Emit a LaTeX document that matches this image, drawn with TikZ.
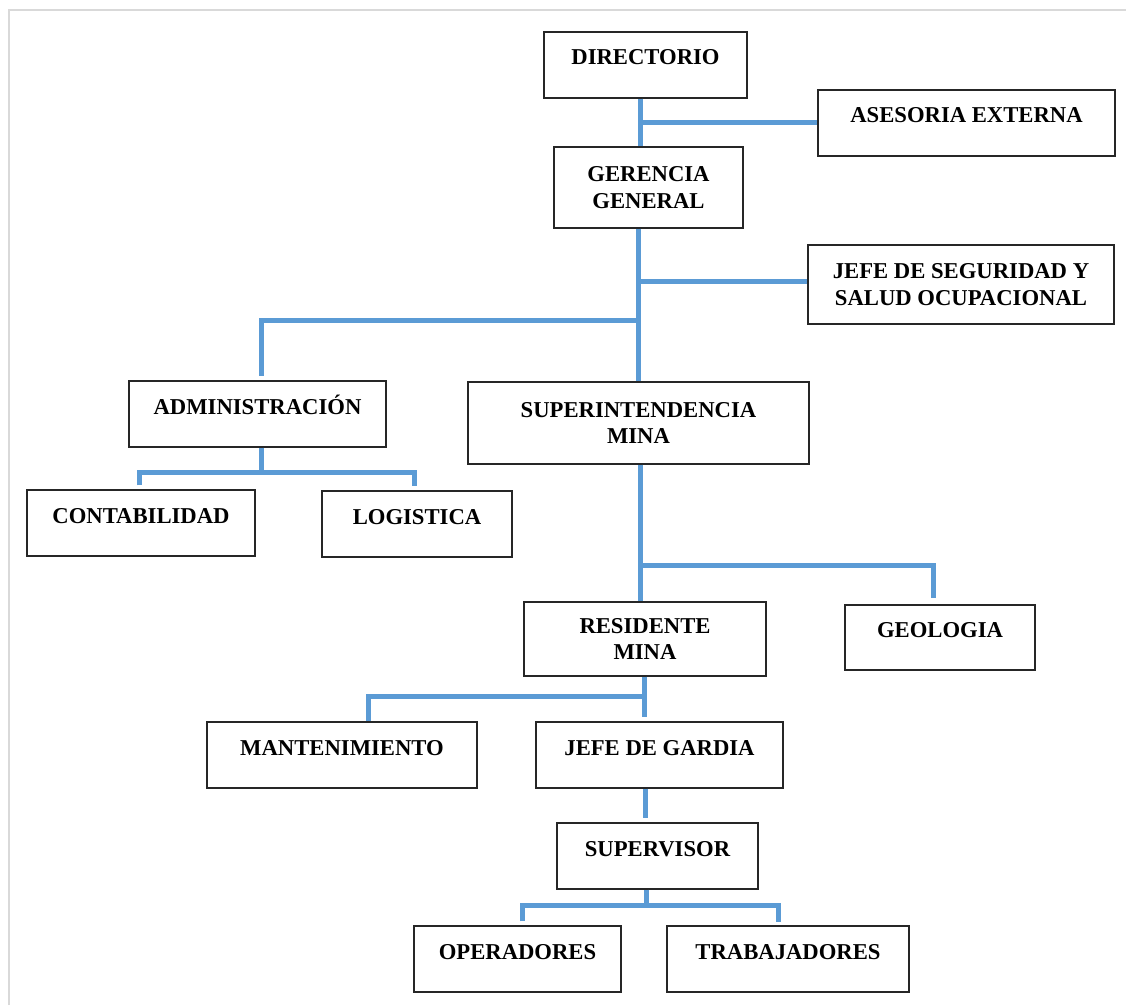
\documentclass[tikz,border=0pt]{standalone}
\usepackage{fontspec}
\setmainfont{Liberation Serif}
\definecolor{linkblue}{RGB}{91,155,213}
\definecolor{framegray}{RGB}{217,217,217}
\begin{document}
\begin{tikzpicture}[x=0.75pt, y=-0.75pt,
  box/.style={draw=black!85, line width=0.9pt, fill=white, inner sep=0pt,
    align=center, font=\fontsize{17}{20}\selectfont\bfseries},
  sz/.style 2 args={minimum width=#1*0.75pt, minimum height=#2*0.75pt},
  oneline/.style={text height=9pt, text depth=9pt},
  link/.style={draw=linkblue, line width=3.75pt}]
\useasboundingbox (0,0) rectangle (1126,1005);
% page frame
\draw[framegray, line width=1.5pt] (9,1005) -- (9,10) -- (1126,10);

% boxes
\node[box, oneline, sz={203}{66}] (dir) at (645.5,65) {DIRECTORIO};
\node[box, oneline, sz={297}{66}] (ase) at (966.5,123) {ASESORIA EXTERNA};
\node[box, sz={189}{81}] (ger) at (648.5,187.5) {GERENCIA\\GENERAL};
\node[box, sz={306}{79}] (seg) at (961,284.5) {JEFE DE SEGURIDAD Y\\SALUD OCUPACIONAL};
\node[box, oneline, sz={257}{66}] (adm) at (257.5,414) {ADMINISTRACIÓN};
\node[box, sz={341}{82}] (sup) at (638.5,423) {SUPERINTENDENCIA\\MINA};
\node[box, oneline, sz={228}{66}] (con) at (141,523) {CONTABILIDAD};
\node[box, oneline, sz={190}{66}] (log) at (417,524) {LOGISTICA};
\node[box, sz={242}{74}] (res) at (645,639) {RESIDENTE\\MINA};
\node[box, oneline, sz={190}{65}] (geo) at (940,637.5) {GEOLOGIA};
\node[box, oneline, sz={270}{66}] (man) at (342,755) {MANTENIMIENTO};
\node[box, oneline, sz={247}{66}] (jdg) at (659.5,755) {JEFE DE GARDIA};
\node[box, oneline, sz={201}{66}] (spv) at (657.5,856) {SUPERVISOR};
\node[box, oneline, sz={207}{66}] (ope) at (517.5,959) {OPERADORES};
\node[box, oneline, sz={242}{66}] (tra) at (788,959) {TRABAJADORES};

% junction points
\coordinate (j1) at (640,123);
\coordinate (j2) at (638,282);
\coordinate (j3) at (638,320);
\coordinate (a1) at (261,320);
\coordinate (a2) at (261,376);
\coordinate (j4) at (261,472);
\coordinate (c1) at (139,472);
\coordinate (l1) at (414,472);
\coordinate (j5) at (640,565);
\coordinate (g1) at (933,565);
\coordinate (g2) at (933,598);
\coordinate (j6) at (644,696);
\coordinate (r1) at (644,717);
\coordinate (m1) at (368,696);
\coordinate (k1) at (645,818);
\coordinate (j7) at (646,905);
\coordinate (o1) at (522,905);
\coordinate (t1) at (778,905);

% connectors
\draw[link] (j1 |- dir.south) -- (j1 |- ger.north);
\draw[link] (j1) -- (j1 -| ase.west);
\draw[link] (j2 |- ger.south) -- (j2 |- sup.north);
\draw[link] (j2) -- (j2 -| seg.west);
\draw[link] (j3) -- (a1) -- (a2);
\draw[link] (j4 |- adm.south) -- (j4);
\draw[link] (c1 |- con.north) ++(0,-4) -- (c1) -- (l1) -- ++(0,14);
\draw[link] (j5 |- sup.south) -- (j5 |- res.north);
\draw[link] (j5) -- (g1) -- (g2);
\draw[link] (j6 |- res.south) -- (r1);
\draw[link] (j6) -- (m1) -- (m1 |- man.north);
\draw[link] (k1 |- jdg.south) -- (k1);
\draw[link] (j7 |- spv.south) -- (j7);
\draw[link] (o1 |- ope.north) ++(0,-4) -- (o1) -- (t1) -- ++(0,17);
\end{tikzpicture}
\end{document}
